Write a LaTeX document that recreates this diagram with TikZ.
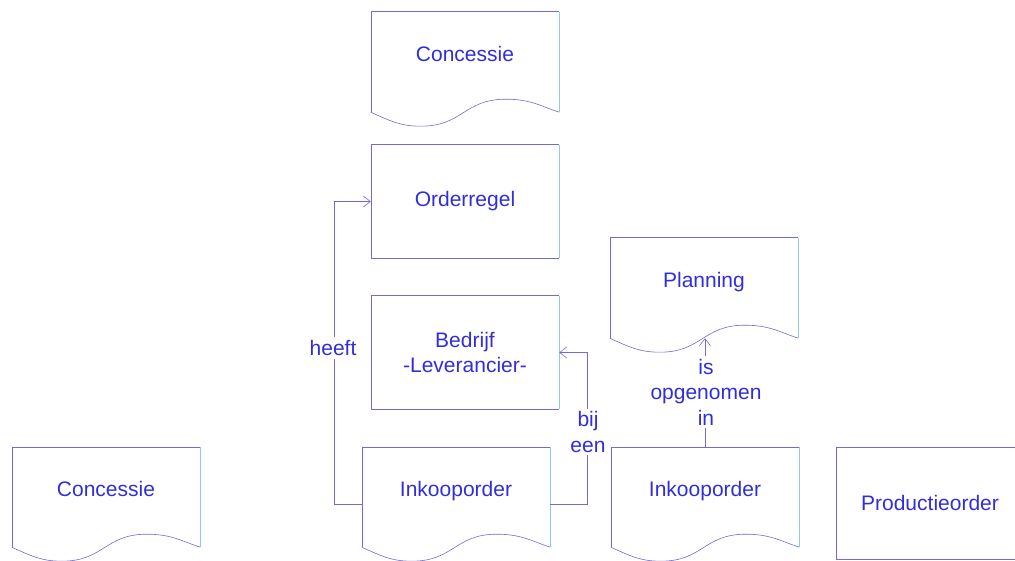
\documentclass[tikz,border=0pt]{standalone}
\usepackage{fontspec}
\setmainfont{Liberation Sans}
\usetikzlibrary{arrows.meta,calc}

\definecolor{linecol}{RGB}{115,105,215}
\definecolor{rimcol}{RGB}{140,205,235}
\definecolor{txtcol}{RGB}{50,45,220}

\tikzset{
  labelfont/.style={font=\fontsize{21pt}{25.5pt}\selectfont},
  entity/.style={labelfont, minimum width=188pt, minimum height=113pt,
    inner sep=0pt, text=txtcol, align=center},
  document/.style={entity, minimum height=100pt, text height=15pt, text depth=16pt},
  link/.style={draw=linecol, line width=0.6pt},
  rim/.style={draw=rimcol, line width=0.6pt},
  conn/.style={link, -{Straight Barb[length=7pt,width=11pt]}},
  rel/.style={labelfont, fill=white, text=txtcol, align=center, inner sep=3pt},
}

% plain entity: rectangle, right side lighter
\newcommand\boxoutline[1]{%
  \draw[link] (#1.north east) -- (#1.north west) -- (#1.south west) -- (#1.south east);
  \draw[rim] (#1.north east) -- (#1.south east);}

% document symbol: rectangle with a wavy lower edge
\newcommand\docoutline[1]{%
  \draw[link] (#1.south west) -- (#1.north west) -- (#1.north east);
  \draw[rim] (#1.north east) -- (#1.south east);
  \draw[link] (#1.south west)
    .. controls ($(#1.south west)+(20,9)$) and ($(#1.south west)+(30,14)$) .. ($(#1.south west)+(50,14)$)
    .. controls ($(#1.south west)+(92,14)$) and ($(#1.south west)+(93,-13)$) .. ($(#1.south west)+(135,-13)$)
    .. controls ($(#1.south west)+(160,-13)$) and ($(#1.south west)+(170,-6)$) .. (#1.south east);}

\begin{document}
\begin{tikzpicture}[x=1pt, y=-1pt]
  \useasboundingbox (0,0) rectangle (1015,561);
  \clip (0,0) rectangle (1015,561);

  % entities
  \node[document] (conc1) at (465,62) {Concessie};
  \node[entity]   (ordr)  at (465,201.5) {Orderregel};
  \node[entity]   (bedr)  at (465,352.5) {Bedrijf\\-Leverancier-};
  \node[document] (plan)  at (704,288) {Planning};
  \node[document] (conc2) at (106,497) {Concessie};
  \node[document] (ink1)  at (456,497) {Inkooporder};
  \node[document] (ink2)  at (705,497) {Inkooporder};
  \node[entity, minimum height=112pt] (prod) at (930,503) {Productieorder};

  \docoutline{conc1}
  \boxoutline{ordr}
  \boxoutline{bedr}
  \docoutline{plan}
  \docoutline{conc2}
  \docoutline{ink1}
  \docoutline{ink2}
  \boxoutline{prod}

  % relations
  \draw[conn] ($(ink1.west)+(0,7)$) -- ++(-28,0) |- (ordr.west);
  \draw[conn] ($(ink1.east)+(0,7)$) -| ($(bedr.east)+(28,0)$) -- (bedr.east);
  \draw[conn] (ink2.north) -- (ink2.north |- plan.south);

  \node[rel] (heeft) at (333,348) {heeft};
  \node[rel] (bijeen) at (588,432) {bij\\een};
  \node[rel] (opgen) at (706,392) {is\\opgenomen\\in};
\end{tikzpicture}
\end{document}
